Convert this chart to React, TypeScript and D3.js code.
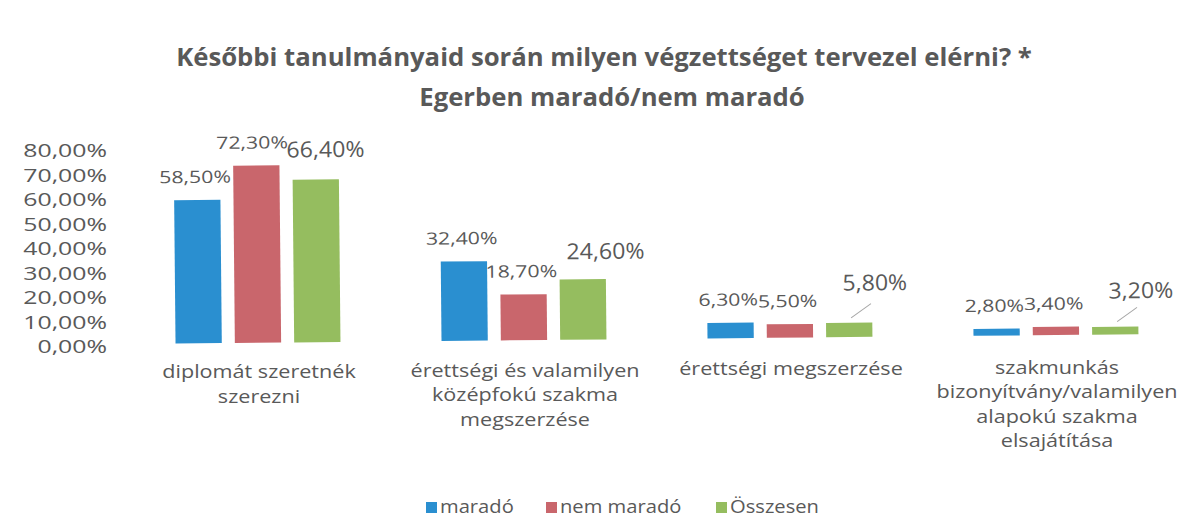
import React from "react";
import * as d3 from "d3";

const title1 = "Későbbi tanulmányaid során milyen végzettséget tervezel elérni? *";
const title2 = "Egerben maradó/nem maradó";

const categories = [
  "diplomát szeretnék szerezni",
  "érettségi és valamilyen középfokú szakma megszerzése",
  "érettségi megszerzése",
  "szakmunkás bizonyítvány/valamilyen alapokú szakma elsajátítása",
];
const categoryLines = [
  ["diplomát szeretnék", "szerezni"],
  ["érettségi és valamilyen", "középfokú szakma", "megszerzése"],
  ["érettségi megszerzése"],
  ["szakmunkás", "bizonyítvány/valamilyen", "alapokú szakma", "elsajátítása"],
];

const seriesNames = ["maradó", "nem maradó", "Összesen"];
const marado = [58.5, 32.4, 6.3, 2.8];
const nemMarado = [72.3, 18.7, 5.5, 3.4];
const osszesen = [66.4, 24.6, 5.8, 3.2];
const seriesValues = [marado, nemMarado, osszesen];
const yTicks = [0, 10, 20, 30, 40, 50, 60, 70, 80];

const colors = ["#2a8fd0", "#c9666c", "#95bd5f"];
// label placement tweaks for the "Összesen" labels (layout only)
const greenDx = [10, 23, 26, 26];
const greenDy = [-30, -28, -40, -36];
const leader = [false, false, true, true];

const fmt = (v: number) => v.toFixed(2).replace(".", ",") + "%";
const textCol = "#595959";

function T(props: { x: number; y: number; sx?: number; size: number; anchor?: string; weight?: string; children: React.ReactNode }) {
  const { x, y, sx = 1, size, anchor = "middle", weight = "normal", children } = props;
  return (
    <text
      transform={`translate(${x},${y}) scale(${sx},1)`}
      dy="0.35em"
      textAnchor={anchor}
      fontSize={size}
      fontWeight={weight}
      fill={textCol}
    >
      {children}
    </text>
  );
}

export default function App() {
  const W = 1179, H = 520;
  const x = d3.scaleBand<string>().domain(categories).range([125, 1189]).paddingInner(0);
  const inner = d3.scaleBand<string>().domain(seriesNames).range([-89, 89]).paddingInner(0.22).paddingOuter(0.11);
  const y = d3.scaleLinear().domain([0, 80]).range([344, 148]);
  const font = "'Open Sans', 'DejaVu Sans', sans-serif";

  return (
    <svg width={W} height={H} style={{ position: "absolute", left: 0, top: 0, background: "#fff" }} fontFamily={font}>
      <rect width={W} height={H} fill="#fff" />
      <T x={604} y={57} size={25.7} weight="bold">{title1}</T>
      <T x={612} y={97} size={25.7} weight="bold">{title2}</T>

      {yTicks.map((t) => (
        <T key={t} x={107} y={y(t) + 3} size={18} sx={1.38} anchor="end">{fmt(t)}</T>
      ))}

      <g transform="rotate(-0.55 125 344)">
        {categories.map((c, gi) => {
          const cx = (x(c) as number) + x.bandwidth() / 2;
          return (
            <g key={c}>
              {seriesNames.map((s, si) => {
                const v = seriesValues[si][gi];
                const bx = cx + (inner(s) as number);
                const bw = inner.bandwidth();
                const top = y(v);
                const bcx = bx + bw / 2;
                const isGreen = si === 2;
                return (
                  <g key={s}>
                    <rect x={bx} y={top} width={bw} height={y(0) - top} fill={colors[si]} />
                    {isGreen && leader[gi] && (
                      <line x1={bcx + 2} y1={top - 5} x2={bcx + 22} y2={top - 19} stroke="#a6a6a6" strokeWidth={1} />
                    )}
                    {isGreen ? (
                      <T x={bcx + greenDx[gi]} y={top + greenDy[gi]} size={22} sx={1.05}>{fmt(v)}</T>
                    ) : (
                      <T x={bcx - (gi === 0 && si === 1 ? 4 : 2)} y={top - 23} size={17} sx={1.25}>{fmt(v)}</T>
                    )}
                  </g>
                );
              })}
            </g>
          );
        })}
      </g>

      {categories.map((c, gi) => {
        const cx = (x(c) as number) + x.bandwidth() / 2;
        return (
          <g key={c}>
            {categoryLines[gi].map((ln, li) => (
              <T key={li} x={cx + 1} y={372 - gi * 1.5 + li * 24.5} size={18} sx={1.2}>{ln}</T>
            ))}
          </g>
        );
      })}

      {seriesNames.map((s, si) => {
        const lx = [426, 546, 716][si];
        return (
          <g key={s}>
            <rect x={lx} y={502} width={11} height={11} fill={colors[si]} />
            <T x={lx + 14} y={507} size={18} sx={1.12} anchor="start">{s}</T>
          </g>
        );
      })}
    </svg>
  );
}
